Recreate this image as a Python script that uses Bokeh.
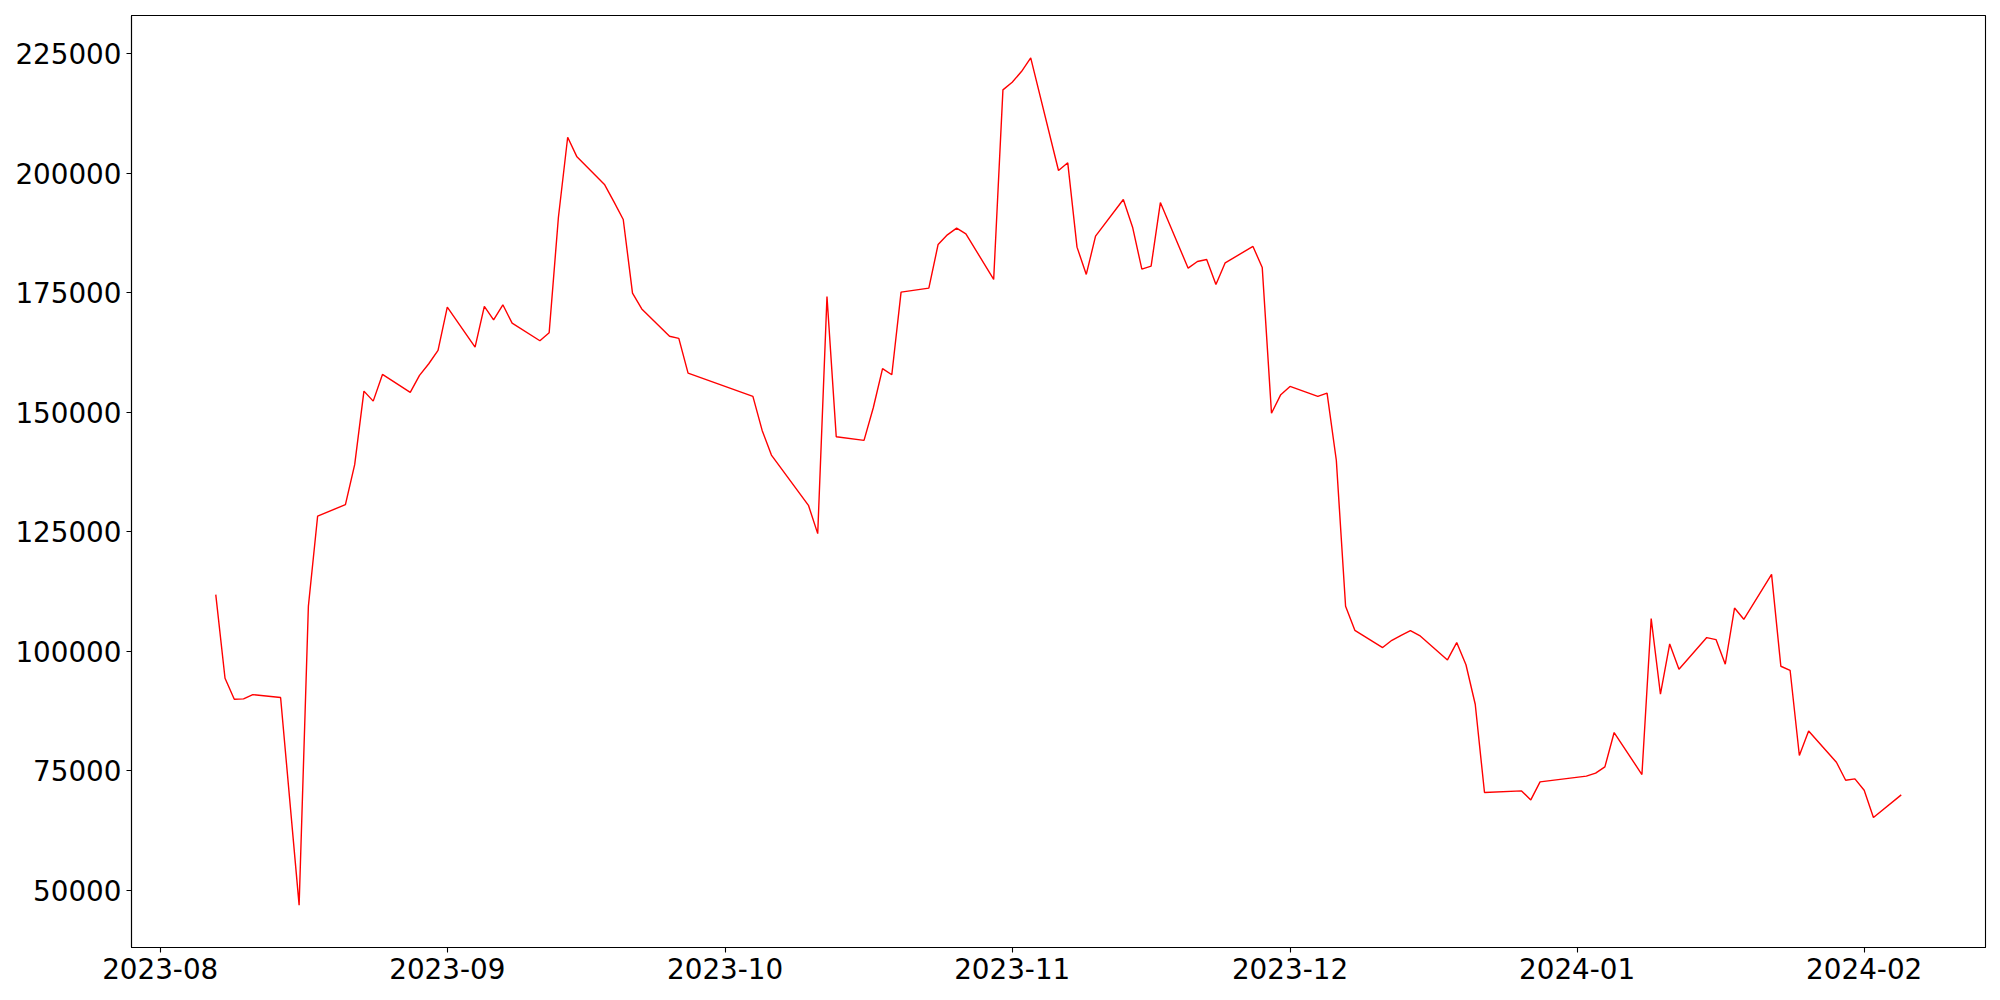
import pandas as pd
from bokeh.plotting import figure
from bokeh.models import Range1d, FixedTicker, DatetimeTickFormatter, BasicTickFormatter, ColumnDataSource
from bokeh.embed import file_html
from bokeh.resources import INLINE

dates = [
    "2023-08-07", "2023-08-08", "2023-08-09", "2023-08-10", "2023-08-11",
    "2023-08-14", "2023-08-16", "2023-08-17", "2023-08-18",
    "2023-08-21", "2023-08-22", "2023-08-23", "2023-08-24", "2023-08-25",
    "2023-08-28", "2023-08-29", "2023-08-30", "2023-08-31", "2023-09-01",
    "2023-09-04", "2023-09-05", "2023-09-06", "2023-09-07", "2023-09-08",
    "2023-09-11", "2023-09-12", "2023-09-13", "2023-09-14", "2023-09-15",
    "2023-09-18", "2023-09-19", "2023-09-20", "2023-09-21", "2023-09-22",
    "2023-09-25", "2023-09-26", "2023-09-27",
    "2023-10-04", "2023-10-05", "2023-10-06",
    "2023-10-10", "2023-10-11", "2023-10-12", "2023-10-13",
    "2023-10-16", "2023-10-17", "2023-10-18", "2023-10-19", "2023-10-20",
    "2023-10-23", "2023-10-24", "2023-10-25", "2023-10-26", "2023-10-27",
    "2023-10-30", "2023-10-31", "2023-11-01", "2023-11-02", "2023-11-03",
    "2023-11-06", "2023-11-07", "2023-11-08", "2023-11-09", "2023-11-10",
    "2023-11-13", "2023-11-14", "2023-11-15", "2023-11-16", "2023-11-17",
    "2023-11-20", "2023-11-21", "2023-11-22", "2023-11-23", "2023-11-24",
    "2023-11-27", "2023-11-28", "2023-11-29", "2023-11-30", "2023-12-01",
    "2023-12-04", "2023-12-05", "2023-12-06", "2023-12-07", "2023-12-08",
    "2023-12-11", "2023-12-12", "2023-12-13", "2023-12-14", "2023-12-15",
    "2023-12-18", "2023-12-19", "2023-12-20", "2023-12-21", "2023-12-22",
    "2023-12-26", "2023-12-27", "2023-12-28",
    "2024-01-02", "2024-01-03", "2024-01-04", "2024-01-05",
    "2024-01-08", "2024-01-09", "2024-01-10", "2024-01-11", "2024-01-12",
    "2024-01-15", "2024-01-16", "2024-01-17", "2024-01-18", "2024-01-19",
    "2024-01-22", "2024-01-23", "2024-01-24", "2024-01-25", "2024-01-26",
    "2024-01-29", "2024-01-30", "2024-01-31", "2024-02-01", "2024-02-02",
    "2024-02-05",
]

values = [
    111870, 94370, 89980, 90050, 90960,
    90340, 46930, 109420, 128290,
    130670, 139030, 154410, 152320, 157900,
    154150, 157700, 160140, 162920, 171970,
    163610, 172120, 169330, 172470, 168630,
    164950, 166620, 190780, 207500, 203400,
    197550, 194000, 190300, 174900, 171600,
    165880, 165430, 158180,
    153310, 146200, 141040,
    130530, 124610, 174210, 144880,
    144110, 150940, 159100, 157840, 175110,
    175950, 185080, 187100, 188490, 187310,
    177770, 217410, 219000, 221240, 224100,
    200540, 202150, 184520, 178810, 186810,
    194480, 188690, 179920, 180540, 193850,
    180120, 181520, 181940, 176720, 181250,
    184660, 180270, 149790, 153670, 155400,
    153310, 154010, 139960, 109420, 104400,
    100790, 102310, 103360, 104340, 103300,
    98200, 101830, 97200, 88940, 70480,
    70820, 68940, 72700,
    73900, 74520, 75840, 83020,
    74240, 106850, 91030, 101540, 96250,
    102880, 102460, 97300, 109060, 106700,
    116100, 96880, 96040, 78210, 83360,
    76810, 73050, 73330, 70960, 65260,
    69980,
]

x_tick_labels = ["2023-08", "2023-09", "2023-10", "2023-11", "2023-12", "2024-01", "2024-02"]
y_ticks = [50000, 75000, 100000, 125000, 150000, 175000, 200000, 225000]

x = pd.to_datetime(dates)
src = ColumnDataSource(dict(x=x, y=values))

# matplotlib-like 5% margins
xmin, xmax = x.min(), x.max()
xspan = xmax - xmin
ymin, ymax = min(values), max(values)
yspan = ymax - ymin

p = figure(
    width=1992, height=992,
    x_axis_type="datetime",
    output_backend="svg", toolbar_location=None,
    x_range=Range1d(xmin - 0.05 * xspan, xmax + 0.05 * xspan),
    y_range=Range1d(ymin - 0.05 * yspan, ymax + 0.05 * yspan),
    min_border_left=131, min_border_right=7, min_border_top=15, min_border_bottom=45,
)
p.line("x", "y", source=src, line_color="red", line_width=1.4)

tick_ms = [pd.Timestamp(s + "-01").value / 1e6 for s in x_tick_labels]
p.xaxis.ticker = FixedTicker(ticks=tick_ms)
fmt = "%Y-%m"
p.xaxis.formatter = DatetimeTickFormatter(
    microseconds=fmt, milliseconds=fmt, seconds=fmt, minsec=fmt, minutes=fmt,
    hourmin=fmt, hours=fmt, days=fmt, months=fmt, years=fmt)
p.yaxis.ticker = FixedTicker(ticks=y_ticks)
p.yaxis.formatter = BasicTickFormatter(use_scientific=False)

for ax in (p.xaxis, p.yaxis):
    ax.major_label_text_font = "DejaVu Sans"
    ax.major_label_text_font_size = "27.8px"
    ax.major_label_text_color = "black"
    ax.major_tick_out = 5
    ax.major_tick_in = 0
    ax.minor_tick_out = 0
    ax.minor_tick_in = 0
    ax.major_tick_line_color = "black"
    ax.major_tick_line_width = 1.1
    ax.axis_line_color = "black"
    ax.axis_line_width = 1.1
    ax.major_label_standoff = 5

p.xgrid.visible = False
p.ygrid.visible = False
p.outline_line_color = "black"
p.outline_line_width = 1.1
p.outline_line_alpha = 1.0
p.background_fill_color = "white"
p.border_fill_color = "white"

open("out.html", "w").write(file_html(p, INLINE))
